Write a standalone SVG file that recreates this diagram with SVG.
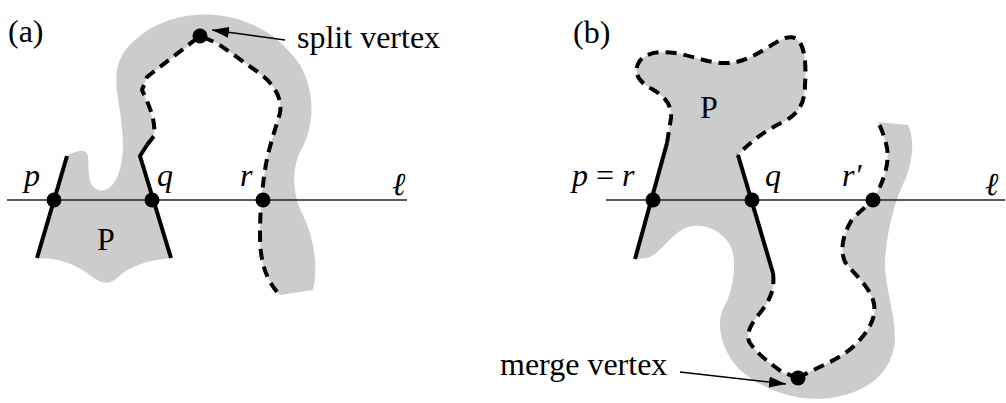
<svg xmlns="http://www.w3.org/2000/svg" width="1006" height="403" viewBox="0 0 1006 403">
<style>
.region{fill:#cccccc;stroke:none}
.solid{fill:none;stroke:#000;stroke-width:4;stroke-linecap:butt;stroke-linejoin:round}
.dash{fill:none;stroke:#000;stroke-width:4;stroke-dasharray:11,7}
.line{fill:none;stroke:#222;stroke-width:1.6}
.dot{fill:#000}
.txt{font-family:"Liberation Serif","DejaVu Serif",serif;font-size:32px;fill:#000}
.it{font-style:italic}
.arr{fill:none;stroke:#000;stroke-width:1.5}
</style>
<defs>
<marker id="ah" viewBox="0 0 10 10" refX="10" refY="5" markerWidth="17" markerHeight="11" markerUnits="userSpaceOnUse" orient="auto" preserveAspectRatio="none">
<path d="M0,0 L10,5 L0,10 Z" fill="#000"/>
</marker>
</defs>

<g id="panel-a">
<path id="region-a" class="region" d="M37,258 L67,156 L70,154 C78,151 86,148 88,156 C89,170 87,186 98,190 C110,193 118,180 121,165 C125,145 122,125 119,105 C115,80 112,60 135,40 C160,18 190,13 215,15 C250,18 280,35 300,65 C315,90 315,125 302,148 C290,170 293,195 303,215 C315,240 318,270 313,290 L280,295 L278,293 C265,278 260,260 260,235 C260,210 262,190 265,170 C268,150 275,130 280,113 C283,95 270,80 255,70 L217,43 L200,36 L187,47 L147,77 L142,90 C148,105 155,120 154,135 L147,145 L140,156 L171,258 C150,260 130,265 117,278 C108,287 98,282 87,273 C72,262 55,258 37,258 Z"/>
<line class="line" x1="7" y1="200" x2="407" y2="200"/>
<path class="solid" d="M67,156 L37,258"/>
<path class="solid" d="M147,145 L140,156 L171,258"/>
<path class="dash" d="M147,145 L154,136 C156,120 149,105 142,90 L147,77 L200,36 L217,43 L255,70 C270,80 283,95 280,113 C275,130 268,150 265,170 C262,190 260,210 260,235 C260,260 265,278 278,293"/>
<g id="node-p-a"><circle class="dot" cx="54" cy="200" r="7.5"/><text class="txt it" x="24" y="186">p</text></g>
<g id="node-q-a"><circle class="dot" cx="152" cy="200" r="7.5"/><text class="txt it" x="157" y="186">q</text></g>
<g id="node-r-a"><circle class="dot" cx="263" cy="200" r="7.5"/><text class="txt it" x="240" y="186">r</text></g>
<g id="node-split"><circle class="dot" cx="200" cy="36" r="7.5"/><text class="txt" x="297" y="48">split vertex</text></g>
<text class="txt it" x="392" y="195">ℓ</text>
<text class="txt" x="97" y="250">P</text>
<text class="txt" x="8" y="42">(a)</text>
</g>

<g id="panel-b">
<path id="region-b" class="region" d="M635,259 L667,143 L671,118 C672,104 664,96 652,89 C638,82 633,72 639,62 C646,52 660,51 675,53 C690,55 705,62 722,63 C740,64 752,57 767,48 C780,40 790,33 798,40 C806,48 806,70 805,85 C805,105 797,115 783,122 C765,131 752,140 738,155 L773,273 C775,290 770,300 760,313 C750,325 745,335 750,343 C758,355 770,363 782,372 L798,378 C815,368 840,360 855,345 C870,330 878,315 873,300 C868,285 855,275 845,262 C840,250 842,235 853,218 L873,200 C882,185 890,165 887,148 C885,138 882,130 878,122 L908,125 C915,140 913,160 905,180 C895,200 887,230 885,260 C884,285 895,310 895,340 C893,370 870,393 830,398 C800,402 765,392 740,370 C720,350 715,320 725,305 C733,290 738,260 730,245 C720,228 700,222 685,228 C670,235 660,255 647,258 Z"/>
<line class="line" x1="606" y1="200" x2="1005" y2="200"/>
<path class="solid" d="M667,143 L635,259"/>
<path class="solid" d="M738,155 L773,273"/>
<path class="dash" d="M667,143 L671,118 C672,104 664,96 652,89 C638,82 633,72 639,62 C646,52 660,51 675,53 C690,55 705,62 722,63 C740,64 752,57 767,48 C780,40 790,33 798,40 C806,48 806,70 805,85 C805,105 797,115 783,122 C765,131 752,140 738,155"/>
<path class="dash" d="M773,273 C775,290 770,300 760,313 C750,325 745,335 750,343 C758,355 770,363 782,372 L798,378"/>
<path class="dash" d="M798,378 C815,368 840,360 855,345 C870,330 878,315 873,300 C868,285 855,275 845,262 C840,250 842,235 853,218 L873,200 C882,185 890,165 887,148 C885,138 882,130 878,122"/>
<g id="node-p-b"><circle class="dot" cx="653" cy="200" r="7.5"/><text class="txt it" x="572" y="186">p<tspan font-style="normal"> = </tspan>r</text></g>
<g id="node-q-b"><circle class="dot" cx="752" cy="200" r="7.5"/><text class="txt it" x="765" y="186">q</text></g>
<g id="node-r2-b"><circle class="dot" cx="873" cy="200" r="7.5"/><text class="txt it" x="842" y="186">r′</text></g>
<g id="node-merge"><circle class="dot" cx="798" cy="378" r="7.5"/><text class="txt" x="500" y="375">merge vertex</text></g>
<text class="txt it" x="985" y="195">ℓ</text>
<text class="txt" x="700" y="118">P</text>
<text class="txt" x="573" y="43">(b)</text>
</g>

<g id="connectors">
<line class="arr" x1="285" y1="40" x2="212" y2="30" marker-end="url(#ah)"/>
<line class="arr" x1="680" y1="372" x2="786" y2="384" marker-end="url(#ah)"/>
</g>
</svg>
